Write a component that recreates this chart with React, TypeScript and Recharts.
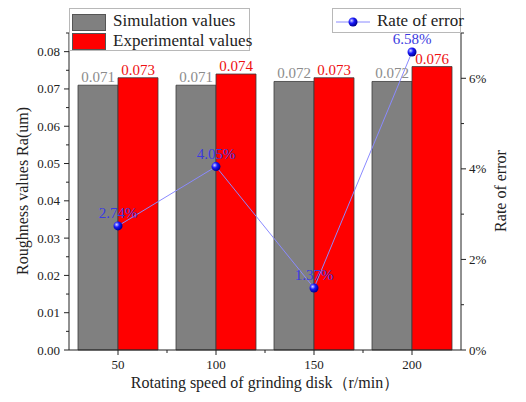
import React from "react";
import {
  Bar,
  ComposedChart,
  LabelList,
  Legend,
  Line,
  XAxis,
  YAxis,
} from "recharts";

const speeds = ["50", "100", "150", "200"];
const simulationValues = [0.071, 0.071, 0.072, 0.072];
const experimentalValues = [0.073, 0.074, 0.073, 0.076];
const errorRates = [2.74, 4.05, 1.37, 6.58]; // percent

const roughnessTicks = [
  0, 0.005, 0.01, 0.015, 0.02, 0.025, 0.03, 0.035, 0.04, 0.045, 0.05, 0.055,
  0.06, 0.065, 0.07, 0.075, 0.08, 0.085,
];
const errorTicks = [0, 1, 2, 3, 4, 5, 6, 7];

const data = speeds.map((speed, i) => ({
  speed,
  simulation: simulationValues[i],
  experimental: experimentalValues[i],
  error: errorRates[i],
}));

const FONT = "'Liberation Serif', Tinos, 'DejaVu Serif', 'Times New Roman', Times, serif";
const INK = "#222";

function LeftTick({ x, y, payload }: any) {
  const major = Math.round(payload.value * 1000) % 10 === 0;
  return (
    <g>
      <line x1={x} x2={x - (major ? 5 : 3)} y1={y} y2={y} stroke={INK} />
      {major && (
        <text x={x - 9} y={y} dy="0.35em" textAnchor="end" fontSize={13} fill={INK} style={{ fontFamily: FONT }}>
          {payload.value.toFixed(2)}
        </text>
      )}
    </g>
  );
}

function RightTick({ x, y, payload }: any) {
  const major = payload.value % 2 === 0;
  return (
    <g>
      <line x1={x} x2={x + (major ? 5 : 3)} y1={y} y2={y} stroke={INK} />
      {major && (
        <text x={x + 8} y={y} dy="0.35em" textAnchor="start" fontSize={13} fill={INK} style={{ fontFamily: FONT }}>
          {payload.value}%
        </text>
      )}
    </g>
  );
}

function BottomTick({ x, y, payload, index }: any) {
  return (
    <g>
      <line x1={x} x2={x} y1={y} y2={y + 5} stroke={INK} />
      {index < speeds.length - 1 && <line x1={x + 49} x2={x + 49} y1={y} y2={y + 3} stroke={INK} />}
      <text x={x} y={y + 19} textAnchor="middle" fontSize={13} fill={INK} style={{ fontFamily: FONT }}>
        {payload.value}
      </text>
    </g>
  );
}

function BallDot({ cx, cy, index }: any) {
  const id = `ball-${index}`;
  return (
    <g>
      <defs>
        <radialGradient id={id} cx="35%" cy="35%" r="65%">
          <stop offset="0%" stopColor="#d8d8ff" />
          <stop offset="45%" stopColor="#1a1aff" />
          <stop offset="100%" stopColor="#000090" />
        </radialGradient>
      </defs>
      <circle cx={cx} cy={cy} r={4.5} fill={`url(#${id})`} />
    </g>
  );
}

function Legends() {
  const box: React.CSSProperties = {
    position: "absolute",
    top: 8,
    background: "#fff",
    border: "1px solid #b8b8b8",
    boxSizing: "border-box",
    fontFamily: FONT,
    fontSize: 17,
    color: INK,
    whiteSpace: "nowrap",
  };
  const swatch = (c: string): React.CSSProperties => ({
    display: "inline-block",
    width: 32,
    height: 15,
    background: c,
    border: "1px solid #555",
    marginRight: 7,
    verticalAlign: "middle",
  });
  return (
    <div style={{ position: "relative", width: 526, height: 60 }}>
      <div style={{ ...box, left: 69, width: 181, height: 43, padding: "2px 0 0 2px", lineHeight: "19px" }}>
        <div>
          <span style={swatch("#808080")} />
          Simulation values
        </div>
        <div>
          <span style={swatch("#ff0000")} />
          Experimental values
        </div>
      </div>
      <div style={{ ...box, left: 332, width: 129, height: 25, lineHeight: "23px", paddingLeft: 3 }}>
        <svg width={34} height={12} style={{ verticalAlign: "middle", marginRight: 7 }}>
          <line x1={0} x2={34} y1={6} y2={6} stroke="#8a8aff" />
          <circle cx={17} cy={6} r={4.5} fill="url(#ball-0)" />
        </svg>
        Rate of error
      </div>
    </div>
  );
}

export default function App() {
  return (
    <div style={{ position: "absolute", left: 0, top: 0, width: 526, height: 402, background: "#fff" }}>
      <ComposedChart
        width={526}
        height={402}
        data={data}
        margin={{ top: 33, right: 0, bottom: 0, left: 0 }}
        barCategoryGap={9}
        barGap={0}
        style={{ fontFamily: FONT }}
      >
        <XAxis
          dataKey="speed"
          height={52}
          axisLine={{ stroke: INK }}
          tickLine={false}
          tickSize={0}
          tickMargin={0}
          tick={<BottomTick />}
          interval={0}
        />
        <YAxis
          yAxisId="left"
          width={69}
          domain={[0, 0.085]}
          ticks={roughnessTicks}
          interval={0}
          axisLine={{ stroke: INK }}
          tickLine={false}
          tickSize={0}
          tickMargin={0}
          tick={<LeftTick />}
        />
        <YAxis
          yAxisId="right"
          orientation="right"
          width={65}
          domain={[0, 7]}
          ticks={errorTicks}
          interval={0}
          axisLine={{ stroke: INK }}
          tickLine={false}
          tickSize={0}
          tickMargin={0}
          tick={<RightTick />}
        />
        <Legend
          layout="horizontal"
          verticalAlign="middle"
          align="center"
          wrapperStyle={{ top: 0, left: 0, width: 526, height: 60 }}
          content={() => <Legends />}
        />
        <Bar
          yAxisId="left"
          dataKey="simulation"
          name="Simulation values"
          fill="#808080"
          stroke="#3a3a3a"
          strokeWidth={0.8}
          isAnimationActive={false}
        >
          <LabelList dataKey="simulation" position="top" offset={3} fill="#8c8c8c" fontSize={15} style={{ fontFamily: FONT }} />
        </Bar>
        <Bar
          yAxisId="left"
          dataKey="experimental"
          name="Experimental values"
          fill="#ff0000"
          stroke="#3a3a3a"
          strokeWidth={0.8}
          isAnimationActive={false}
        >
          <LabelList dataKey="experimental" position="top" offset={3} fill="#ee1111" fontSize={15} style={{ fontFamily: FONT }} />
        </Bar>
        <Line
          yAxisId="right"
          dataKey="error"
          name="Rate of error"
          stroke="#8a8aff"
          strokeWidth={1}
          dot={<BallDot />}
          activeDot={false}
          isAnimationActive={false}
        >
          <LabelList
            dataKey="error"
            position="top"
            offset={8}
            formatter={(v: any) => `${v}%`}
            fill="#3a3ae0"
            fontSize={15}
            style={{ fontFamily: FONT }}
          />
        </Line>
        <text x={22} y={191} transform="rotate(-90 22 191)" textAnchor="middle" dominantBaseline="central" fontSize={16} fill={INK} style={{ fontFamily: FONT }}>
          Roughness values Ra(um)
        </text>
        <text x={500} y={191} transform="rotate(-90 500 191)" textAnchor="middle" dominantBaseline="central" fontSize={16} fill={INK} style={{ fontFamily: FONT }}>
          Rate of error
        </text>
        <text x={265} y={388} textAnchor="middle" fontSize={16} fill={INK} style={{ fontFamily: FONT }}>
          Rotating speed of grinding disk（r/min）
        </text>
      </ComposedChart>
    </div>
  );
}
